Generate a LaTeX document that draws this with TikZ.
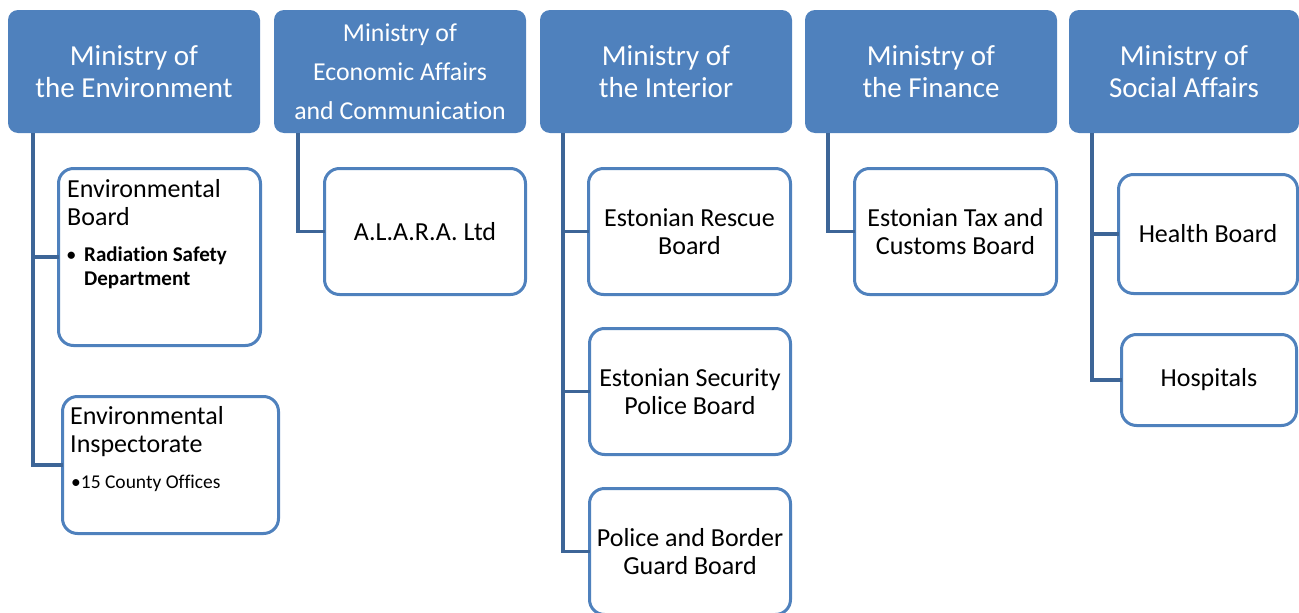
\documentclass[tikz,border=0pt]{standalone}
\usepackage{fontspec}
\setmainfont[Ligatures=CommonOff]{Carlito}
\definecolor{minfill}{HTML}{4F81BD}
\definecolor{boxline}{HTML}{4F81BD}
\definecolor{linkline}{HTML}{3D6597}

\tikzset{
  ministry/.style={fill=minfill, draw=none, rounded corners=10pt,
    minimum width=252pt, minimum height=123pt, inner sep=0pt, outer sep=0pt,
    anchor=north west, text=white, align=center,
    font=\fontsize{29}{32}\selectfont},
  office/.style={draw=boxline, line width=3pt, fill=white, rounded corners=15pt,
    inner sep=0pt, outer sep=0pt, anchor=north west, align=center,
    font=\fontsize{26}{28}\selectfont},
  linkpath/.style={draw=linkline, line width=3.2pt},
  lefttext/.style={anchor=base west, inner sep=0pt, font=\fontsize{26}{28}\selectfont},
  bullettext/.style={anchor=base west, inner sep=0pt, font=\bfseries\fontsize{21}{24}\selectfont},
  smalltext/.style={anchor=base west, inner sep=0pt, font=\fontsize{19.5}{22}\selectfont},
}

\begin{document}
\begin{tikzpicture}[x=1pt, y=-1pt]
\useasboundingbox (0,0) rectangle (1299,613);
\clip (0,0) rectangle (1299,613);

% ministries
\node[ministry] (m1) at (8,10) {Ministry of\\the Environment};
\node[ministry, font=\fontsize{25.8}{39}\selectfont] (m2) at (274,10)
  {Ministry of\\Economic Affairs\\and Communication};
\node[ministry] (m3) at (540,10) {Ministry of\\the Interior};
\node[ministry] (m4) at (805,10) {Ministry of\\the Finance};
\node[ministry, minimum width=230pt] (m5) at (1069,10) {Ministry of\\Social Affairs};

% subordinate offices
\node[office, minimum width=202pt, minimum height=177pt] (envboard) at (58.5,168.5) {};
\node[office, minimum width=216pt, minimum height=137pt] (envinsp) at (62.5,396.5) {};
\node[office, minimum width=201pt, minimum height=126pt] (alara) at (324.5,168.5) {A.L.A.R.A. Ltd};
\node[office, minimum width=202pt, minimum height=126pt] (rescue) at (588.5,168.5) {Estonian Rescue\\Board};
\node[office, minimum width=201pt, minimum height=126pt] (security) at (589.5,328.5) {Estonian Security\\Police Board};
\node[office, minimum width=201pt, minimum height=126pt] (police) at (589.5,488.5) {Police and Border\\Guard Board};
\node[office, minimum width=202pt, minimum height=126pt] (tax) at (854.5,168.5) {Estonian Tax and\\Customs Board};
\node[office, minimum width=179pt, minimum height=119pt] (health) at (1118.5,174.5) {Health Board};
\node[office, minimum width=175pt, minimum height=91pt] (hosp) at (1121.5,334.5) {Hospitals};

% left-aligned office texts
\node[lefttext] (eb1) at (67,197) {Environmental};
\node[lefttext] (eb2) at (67,225) {Board};
\node[bullettext, font=\bfseries\fontsize{17}{20}\selectfont] (ebb) at (67,260) {\textbullet};
\node[bullettext] (eb3) at (84,261) {Radiation Safety};
\node[bullettext] (eb4) at (84,285) {Department};

\node[lefttext] (ei1) at (70,424) {Environmental};
\node[lefttext] (ei2) at (70,452) {Inspectorate};
\node[smalltext] (ei3) at (71,488) {\textbullet 15 County Offices};

% connectors
\draw[linkpath] ([xshift=25pt]m1.south west) |- (envboard.west);
\draw[linkpath] ([xshift=25pt]m1.south west) |- (envinsp.west);
\draw[linkpath] ([xshift=24pt]m2.south west) |- (alara.west);
\draw[linkpath] ([xshift=23pt]m3.south west) |- (rescue.west);
\draw[linkpath] ([xshift=23pt]m3.south west) |- (security.west);
\draw[linkpath] ([xshift=23pt]m3.south west) |- (police.west);
\draw[linkpath] ([xshift=23pt]m4.south west) |- (tax.west);
\draw[linkpath] ([xshift=23pt]m5.south west) |- (health.west);
\draw[linkpath] ([xshift=23pt]m5.south west) |- (hosp.west);
\end{tikzpicture}
\end{document}
